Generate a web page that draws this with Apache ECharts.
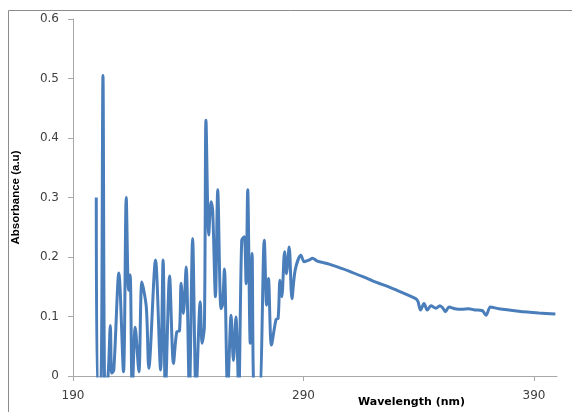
<!DOCTYPE html>
<html>
<head>
<meta charset="utf-8">
<script src="https://cdn.jsdelivr.net/npm/echarts@6/dist/echarts.min.js"></script>
<style>
html,body{margin:0;padding:0;background:#fff;}
#chart{width:572px;height:412px;}
</style>
</head>
<body>
<div id="chart"></div>
<script>
// Wavelength (nm) and absorbance (a.u)
const wavelength = [200.1, 200.7, 202.0, 203.0, 203.9, 205.2, 206.2, 206.8, 207.7, 209.9,
  211.9, 213.1, 214.1, 214.8, 215.7, 217.0, 218.6, 219.9, 221.8, 222.9,
  225.8, 228.0, 229.1, 230.1, 231.9, 233.6, 235.0, 236.2, 236.9, 237.9,
  239.1, 240.5, 241.9, 243.4, 245.2, 246.0, 247.0, 247.7, 248.9, 249.9,
  250.6, 251.8, 252.8, 254.2, 254.9, 255.7, 257.1, 258.6, 259.6, 260.7,
  261.9, 263.2, 264.3, 265.1, 265.8, 266.9, 267.7, 268.7, 270.8, 273.0,
  274.0, 274.8, 276.1, 278.1, 279.0, 279.8, 280.6, 281.8, 282.6, 283.8,
  285.0, 286.4, 288.9, 290.3, 292.5, 293.9, 296.0, 298.2, 301.1, 310.0,
  320.0, 330.0, 338.7,
  339.7, 340.8, 342.3, 343.7, 345.3, 347.5, 349.2, 350.5, 351.6, 353.1,
  355.7, 358.7, 361.7, 364.3, 367.5, 369.2, 371.1, 374.7, 383.4, 392.1, 399.3];
const absorbance = [0.300, -0.03, -0.03, 0.505, -0.03, 0.000, 0.085, 0.005, 0.010, 0.173,
  0.007, 0.300, 0.144, 0.170, -0.03, 0.082, 0.007, 0.158, 0.116, 0.013,
  0.195, 0.010, 0.195, -0.03, 0.168, 0.021, 0.074, 0.076, 0.156, 0.105,
  0.183, -0.03, 0.231, -0.03, 0.125, 0.055, 0.082, 0.430, 0.237, 0.293,
  0.279, 0.133, 0.313, 0.113, 0.120, 0.180, -0.03, 0.102, 0.026, 0.099,
  -0.03, 0.228, 0.234, 0.155, 0.313, 0.055, 0.206, -0.03, -0.03, 0.228,
  0.119, 0.164, 0.052, 0.095, 0.097, 0.161, 0.133, 0.209, 0.172, 0.217,
  0.130, 0.178, 0.203, 0.192, 0.195, 0.198, 0.193, 0.191, 0.188, 0.176,
  0.160, 0.145, 0.130,
  0.125, 0.111, 0.122, 0.111, 0.118, 0.114, 0.118, 0.114, 0.108, 0.116,
  0.113, 0.112, 0.113, 0.111, 0.110, 0.102, 0.116, 0.113, 0.109, 0.106, 0.104];
const xTicks = [190, 290, 390];

const points = wavelength.map((w, i) => [w, absorbance[i]]);

const chart = echarts.init(document.getElementById('chart'), null, {renderer: 'canvas'});
chart.setOption({
  animation: false,
  backgroundColor: '#ffffff',
  grid: {left: 73, right: 15, top: 19, bottom: 36, containLabel: false},
  xAxis: {
    type: 'value', min: 190, max: 400,
    axisLine: {show: true, lineStyle: {color: '#a8a8a8', width: 1}},
    axisTick: {show: true, length: 5, lineStyle: {color: '#a8a8a8'}, customValues: xTicks},
    axisLabel: {customValues: xTicks, margin: 14, color: '#404040', fontFamily: 'DejaVu Sans', fontSize: 12},
    splitLine: {show: false}
  },
  yAxis: {
    type: 'value', min: 0, max: 0.6, interval: 0.1,
    name: 'Absorbance (a.u)', nameLocation: 'middle', nameRotate: 90, nameGap: 51,
    nameTextStyle: {fontFamily: 'Liberation Sans', fontWeight: 'bold', fontSize: 11.5, color: '#000'},
    axisLine: {show: true, lineStyle: {color: '#a8a8a8', width: 1}},
    axisTick: {show: true, length: 5, lineStyle: {color: '#a8a8a8'}},
    axisLabel: {margin: 14, color: '#404040', fontFamily: 'DejaVu Sans', fontSize: 12,
      formatter: v => (Math.round(v * 10) / 10).toString()},
    splitLine: {show: false}
  },
  graphic: [
    {type: 'rect', silent: true, z: -1, shape: {x: 8.5, y: 10.5, width: 700, height: 600},
      style: {fill: 'none', stroke: '#8c8c8c', lineWidth: 1}},
    {type: 'text', left: 358, top: 397, silent: true,
      style: {text: 'Wavelength (nm)', fontFamily: 'DejaVu Sans', fontWeight: 'bold', fontSize: 11, fill: '#000'}}
  ],
  series: [{
    type: 'line', data: points, showSymbol: false, smooth: 0.3, clip: true,
    lineStyle: {color: '#4a7ebb', width: 3}
  }]
});
</script>
</body>
</html>
